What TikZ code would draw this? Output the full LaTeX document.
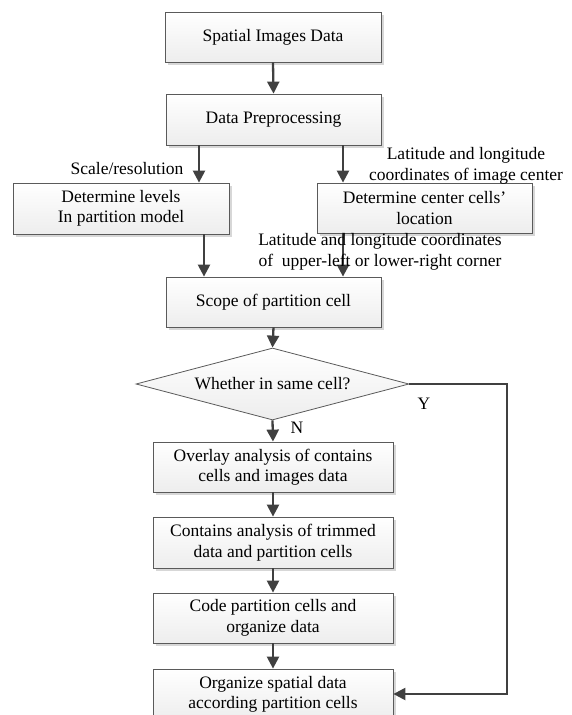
\documentclass[tikz,border=0pt]{standalone}
\usepackage{fontspec}
\setmainfont{Liberation Serif}
\usetikzlibrary{arrows.meta,shapes.geometric,shadows}
\definecolor{linegray}{HTML}{404040}
\definecolor{edgegray}{HTML}{5A5A5A}
\tikzset{
  boxstyle/.style={draw=edgegray, line width=0.8pt, top color=white, bottom color=gray!14,
    drop shadow={shadow xshift=3pt, shadow yshift=-3pt, fill=gray!45, opacity=0.7},
    inner sep=0pt, align=center, anchor=center},
  decision/.style={diamond, draw=edgegray, line width=0.8pt, top color=white, bottom color=gray!14,
    inner sep=0pt, aspect=3.79, minimum width=273pt, minimum height=72pt},
  arr/.style={draw=linegray, line width=2.3pt, -{Triangle[length=12pt,width=12pt]}},
  plainline/.style={draw=linegray, line width=2.3pt},
  lbl/.style={inner sep=0pt, align=center},
}
\begin{document}
\begin{tikzpicture}[x=1pt,y=-1pt,
  every node/.style={font=\fontsize{17.5}{20.5}\selectfont, text=black}]
\useasboundingbox (0,0) rectangle (571,715);
% boxes
\node[boxstyle, minimum width=216pt, minimum height=50pt] (b1) at (273,37) {Spatial Images Data};
\node[boxstyle, minimum width=215pt, minimum height=51pt] (b2) at (273.5,119.5) {Data Preprocessing};
\node[boxstyle, minimum width=216pt, minimum height=51pt] (bl) at (121,208.5) {Determine levels\\In partition model};
\node[boxstyle, minimum width=215pt, minimum height=50pt] (br) at (424.5,208) {Determine center cells’\\location};
\node[boxstyle, minimum width=215pt, minimum height=50pt] (sc) at (273.5,302) {Scope of partition cell};
\node[decision] (dc) at (272.5,384) {Whether in same cell?};
\node[boxstyle, minimum width=240pt, minimum height=50pt] (ov) at (273,467) {Overlay analysis of contains\\cells and images data};
\node[boxstyle, minimum width=240pt, minimum height=51pt] (ct) at (273,542.5) {Contains analysis of trimmed\\data and partition cells};
\node[boxstyle, minimum width=240pt, minimum height=50pt] (cd) at (273,618) {Code partition cells and\\organize data};
\node[boxstyle, minimum width=240pt, minimum height=51pt] (og) at (273,694.5) {Organize spatial data\\according partition cells};
% helper coordinates
\coordinate (xl1) at (199,0);
\coordinate (xr1) at (343,0);
\coordinate (xl2) at (204,0);
\coordinate (yc) at (507,384);
\coordinate (yd) at (507,694);
% connectors
\draw[arr] (b1.south) -- (b2.north);
\draw[arr] (b2.south -| xl1) -- (bl.north -| xl1);
\draw[arr] (b2.south -| xr1) -- (br.north -| xr1);
\draw[arr] (bl.south -| xl2) -- (sc.north -| xl2);
\draw[arr] (br.south -| xr1) -- (sc.north -| xr1);
\draw[arr] (sc.south) -- (dc.north);
\draw[arr] (dc.south) -- (ov.north);
\draw[arr] (ov.south) -- (ct.north);
\draw[arr] (ct.south) -- (cd.north);
\draw[arr] (cd.south) -- (og.north);
\draw[arr] (dc.east) -- (yc) -- (yd) -- (og.east |- yd);
% labels
\node[lbl] (l1) at (127,169) {Scale/resolution};
\node[lbl] (l2) at (466,166) {Latitude and longitude\\coordinates of image center};
\node[lbl] (l3) at (380,252) {Latitude and longitude coordinates\\of~ upper-left or lower-right corner};
\node[lbl] (ly) at (424,404) {Y};
\node[lbl] (ln) at (297,428) {N};
\end{tikzpicture}
\end{document}
